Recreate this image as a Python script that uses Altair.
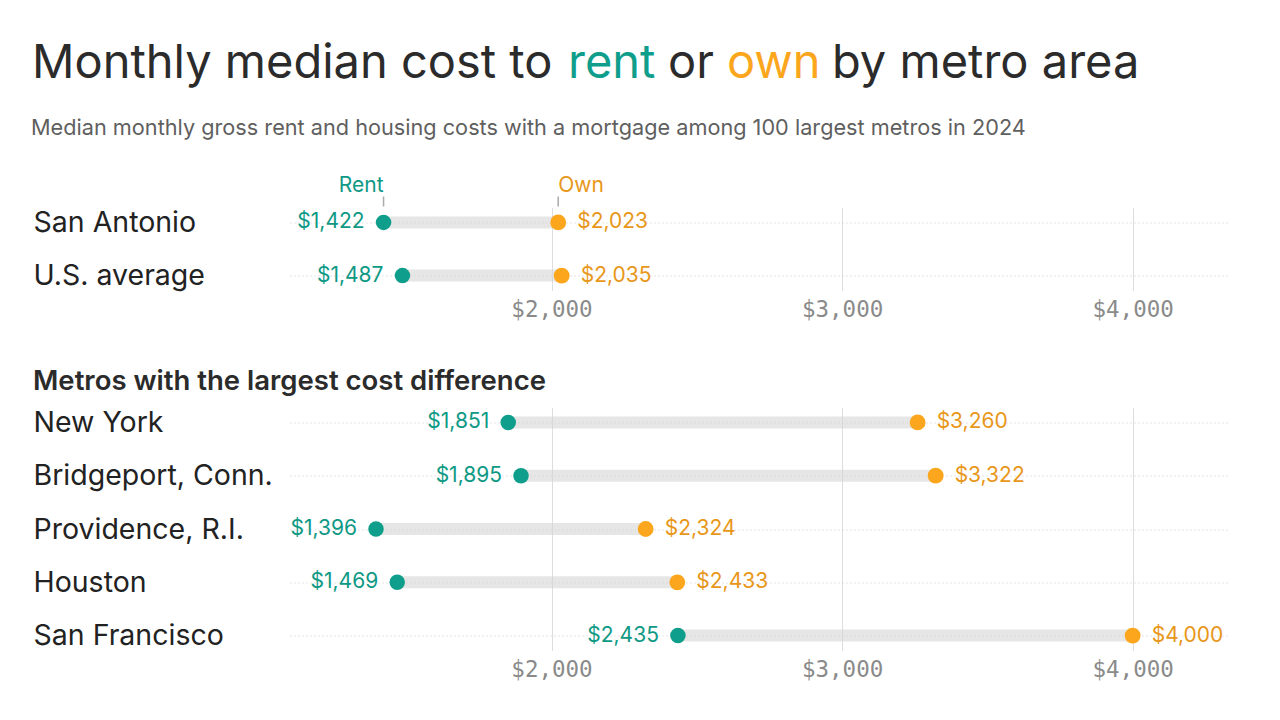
import altair as alt
import pandas as pd

# ---- data ----
top_metros = ["San Antonio", "U.S. average"]
top_rent = [1422, 1487]
top_own = [2023, 2035]

bot_metros = ["New York", "Bridgeport, Conn.", "Providence, R.I.", "Houston", "San Francisco"]
bot_rent = [1851, 1895, 1396, 1469, 2435]
bot_own = [3260, 3322, 2324, 2433, 4000]

x_ticks = [2000, 3000, 4000]

TITLE_PARTS = ["Monthly median cost to", "rent", "or", "own", "by metro area"]
SUBTITLE = "Median monthly gross rent and housing costs with a mortgage among 100 largest metros in 2024"
SECTION = "Metros with the largest cost difference"

TEAL = "#0f9e8b"
TEAL_TXT = "#0e9985"
ORANGE = "#fba61c"
ORANGE_TXT = "#e8971a"
DARK = "#2b2b2b"
FONT = "Inter"
MONO = "DejaVu Sans Mono"

W = 940
XDOM = [1100, 4335]

top_df = pd.DataFrame({"metro": top_metros, "rent": top_rent, "own": top_own})
bot_df = pd.DataFrame({"metro": bot_metros, "rent": bot_rent, "own": bot_own})


def panel(df, order):
    xscale = alt.Scale(domain=XDOM, nice=False, zero=False)
    yscale = alt.Scale(type="point", padding=0.28, domain=order)
    xaxis = alt.Axis(values=x_ticks, format="$,.0f", title=None, ticks=False, domain=False,
                     grid=True, gridColor="#dddddd", gridWidth=1,
                     labelFont=MONO, labelFontSize=22.5, labelColor="#8a8a8a", labelPadding=8)
    yaxis = alt.Axis(title=None, ticks=False, domain=False, grid=True, gridColor="#c8c8c8",
                     gridDash=[1, 3], gridWidth=1,
                     labelAlign="left", labelPadding=257, labelFont=FONT, labelFontSize=28.5,
                     labelColor="#222222", labelLimit=400)
    base = alt.Chart(df)
    bar = base.mark_rule(strokeWidth=12, color="#d6d6d6", opacity=0.6).encode(
        x=alt.X("rent:Q", scale=xscale, axis=xaxis),
        x2="own:Q",
        y=alt.Y("metro:N", scale=yscale, axis=yaxis, sort=order),
    )
    rent_dot = base.mark_circle(size=240, color=TEAL, opacity=1).encode(
        x="rent:Q", y=alt.Y("metro:N", sort=order))
    own_dot = base.mark_circle(size=250, color=ORANGE, opacity=1).encode(
        x="own:Q", y=alt.Y("metro:N", sort=order))
    rent_lbl = base.mark_text(align="right", dx=-19, font=FONT, fontSize=21, color=TEAL_TXT,
                              baseline="middle").encode(
        x="rent:Q", y=alt.Y("metro:N", sort=order), text=alt.Text("rent:Q", format="$,.0f"))
    own_lbl = base.mark_text(align="left", dx=19, font=FONT, fontSize=21, color=ORANGE_TXT,
                             baseline="middle").encode(
        x="own:Q", y=alt.Y("metro:N", sort=order), text=alt.Text("own:Q", format="$,.0f"))
    return [bar, rent_dot, own_dot, rent_lbl, own_lbl]


# ---- top panel ----
top_layers = panel(top_df, top_metros)
first = alt.Chart(top_df.iloc[[0]])
rent_ann = first.mark_text(align="right", baseline="alphabetic", font=FONT, fontSize=21,
                           color=TEAL_TXT).encode(
    x="rent:Q", y=alt.value(-16), text=alt.value("Rent"))
own_ann = first.mark_text(align="left", baseline="alphabetic", font=FONT, fontSize=21,
                          color=ORANGE_TXT).encode(
    x="own:Q", y=alt.value(-16), text=alt.value("Own"))
rent_tick = first.mark_rule(color="#aaaaaa", strokeWidth=1.5).encode(
    x="rent:Q", y=alt.value(-11), y2=alt.value(-1))
own_tick = first.mark_rule(color="#aaaaaa", strokeWidth=1.5).encode(
    x="own:Q", y=alt.value(-11), y2=alt.value(-1))

title_df = pd.DataFrame({"t": TITLE_PARTS})
title_colors = [DARK, TEAL, DARK, ORANGE, DARK]
title_x = [-258, 278, 378, 437, 542]
title_marks = []
for i, part in enumerate(TITLE_PARTS):
    title_marks.append(
        alt.Chart(title_df.iloc[[i]]).mark_text(
            align="left", baseline="alphabetic", font=FONT, fontSize=47, color=title_colors[i]
        ).encode(x=alt.value(title_x[i]), y=alt.value(-130), text="t:N")
    )
sub_mark = alt.Chart(pd.DataFrame({"t": [SUBTITLE]})).mark_text(
    align="left", baseline="alphabetic", font=FONT, fontSize=21.7, color="#5f5f5f"
).encode(x=alt.value(-259), y=alt.value(-73), text="t:N")

top = alt.layer(*top_layers, rent_tick, own_tick, rent_ann, own_ann, *title_marks, sub_mark).properties(
    width=W, height=83)

# ---- bottom panel ----
bot_layers = panel(bot_df, bot_metros)
sec_mark = alt.Chart(pd.DataFrame({"t": [SECTION]})).mark_text(
    align="left", baseline="alphabetic", font=FONT, fontSize=27.5, fontWeight=600, color=DARK
).encode(x=alt.value(-257), y=alt.value(-18), text="t:N")
bottom = alt.layer(*bot_layers, sec_mark).properties(width=W, height=243)

chart = alt.vconcat(top, bottom, spacing=46).resolve_scale(y="independent").properties(
    padding={"left": 23, "top": 31.5, "right": 5, "bottom": 5},
    background="white",
).configure_view(stroke=None)

chart.save("out.html", embed_options={"renderer": "svg", "actions": False})
